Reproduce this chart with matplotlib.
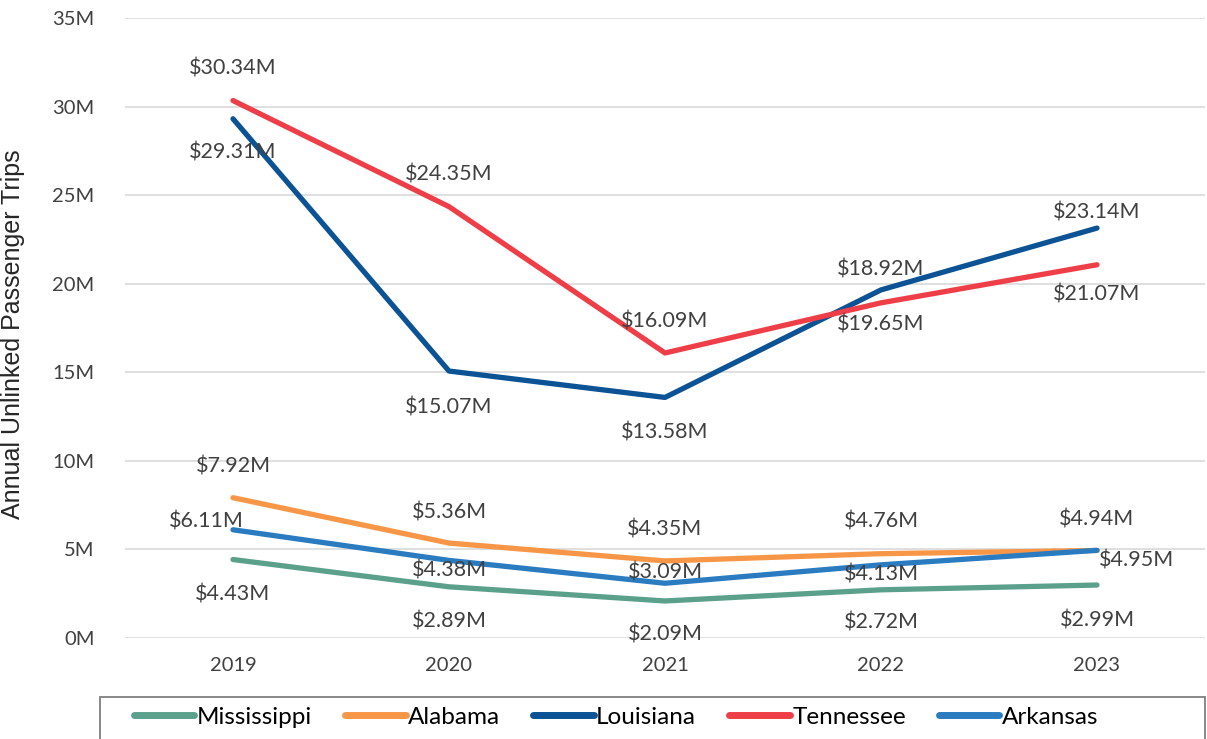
import matplotlib
matplotlib.use("Agg")
import matplotlib.pyplot as plt
from matplotlib.patches import Rectangle
from matplotlib.ticker import FuncFormatter

years = ["2019", "2020", "2021", "2022", "2023"]
mississippi = [4.43, 2.89, 2.09, 2.72, 2.99]
alabama = [7.92, 5.36, 4.35, 4.76, 4.94]
louisiana = [29.31, 15.07, 13.58, 19.65, 23.14]
tennessee = [30.34, 24.35, 16.09, 18.92, 21.07]
arkansas = [6.11, 4.38, 3.09, 4.13, 4.95]

names = ["Mississippi", "Alabama", "Louisiana", "Tennessee", "Arkansas"]
series = [mississippi, alabama, louisiana, tennessee, arkansas]
colors = ["#5BA08A", "#F79646", "#0B5394", "#EE3F48", "#2A7BBF"]

# label offsets in pixels (dx, dy) for each point, per series
offsets = [
    [(0, -35), (0, -35), (0, -34), (0, -33), (0, -35)],
    [(0, 31), (0, 31), (0, 31), (0, 32), (0, 31)],
    [(0, -34), (0, -36), (0, -35), (0, -35), (0, 16)],
    [(0, 32), (0, 32), (0, 31), (0, 33), (0, -30)],
    [(-27, 8), (0, -10), (0, 11), (0, -10), (40, -10)],
]

plt.rcParams["font.family"] = ["Lato", "DejaVu Sans"]
txt = "#404040"

fig = plt.figure(figsize=(12.07, 7.39), dpi=100)
ax = fig.add_axes([125 / 1207, 101 / 739, 1080 / 1207, 620 / 739])

x = list(range(len(years)))
for name, vals, c, offs in zip(names, series, colors, offsets):
    ax.plot(x, vals, color=c, lw=3.8, solid_capstyle="round", label=name, zorder=3)
    for xi, v, (dx, dy) in zip(x, vals, offs):
        ax.annotate("${:.2f}M".format(v), (xi, v), xytext=(dx, dy),
                    textcoords="offset pixels", ha="center", va="center",
                    fontsize=15.5, color=txt, zorder=4)

ax.set_xlim(-0.5, 4.5)
ax.set_ylim(0, 35)
ax.set_yticks(range(0, 36, 5))
ax.yaxis.set_major_formatter(FuncFormatter(lambda v, p: "{:d}M".format(int(v))))
ax.set_xticks(x)
ax.set_xticklabels(years)
ax.grid(axis="y", color="#D9D9D9", lw=1.2)
ax.set_axisbelow(True)
for s in ax.spines.values():
    s.set_visible(False)
ax.tick_params(length=0, labelsize=14.5, labelcolor=txt, pad=14)
ax.tick_params(axis="y", pad=22)
ax.set_ylabel("Annual Unlinked Passenger Trips", fontsize=18, color="#262626",
              family=["Liberation Sans", "DejaVu Sans"])
ax.yaxis.set_label_coords(-0.093, 0.49)

# legend frame, wider than the entries and running off the bottom edge
fig.patches.append(Rectangle((100 / 1207, -0.05), 1105 / 1207, 0.05 + 42 / 739,
                             transform=fig.transFigure, fill=False,
                             edgecolor="#7F7F7F", lw=1.3, clip_on=False))
leg = fig.legend(loc="center", bbox_to_anchor=(616 / 1207, 22 / 739),
                 ncol=5, fontsize=17.5, frameon=False,
                 handlelength=2.5, handletextpad=0.1, columnspacing=1.35,
                 borderaxespad=0, labelcolor="black")
for h in leg.get_lines():
    h.set_linewidth(5)
    h.set_solid_capstyle("round")

fig.savefig("out.png", dpi=100)
